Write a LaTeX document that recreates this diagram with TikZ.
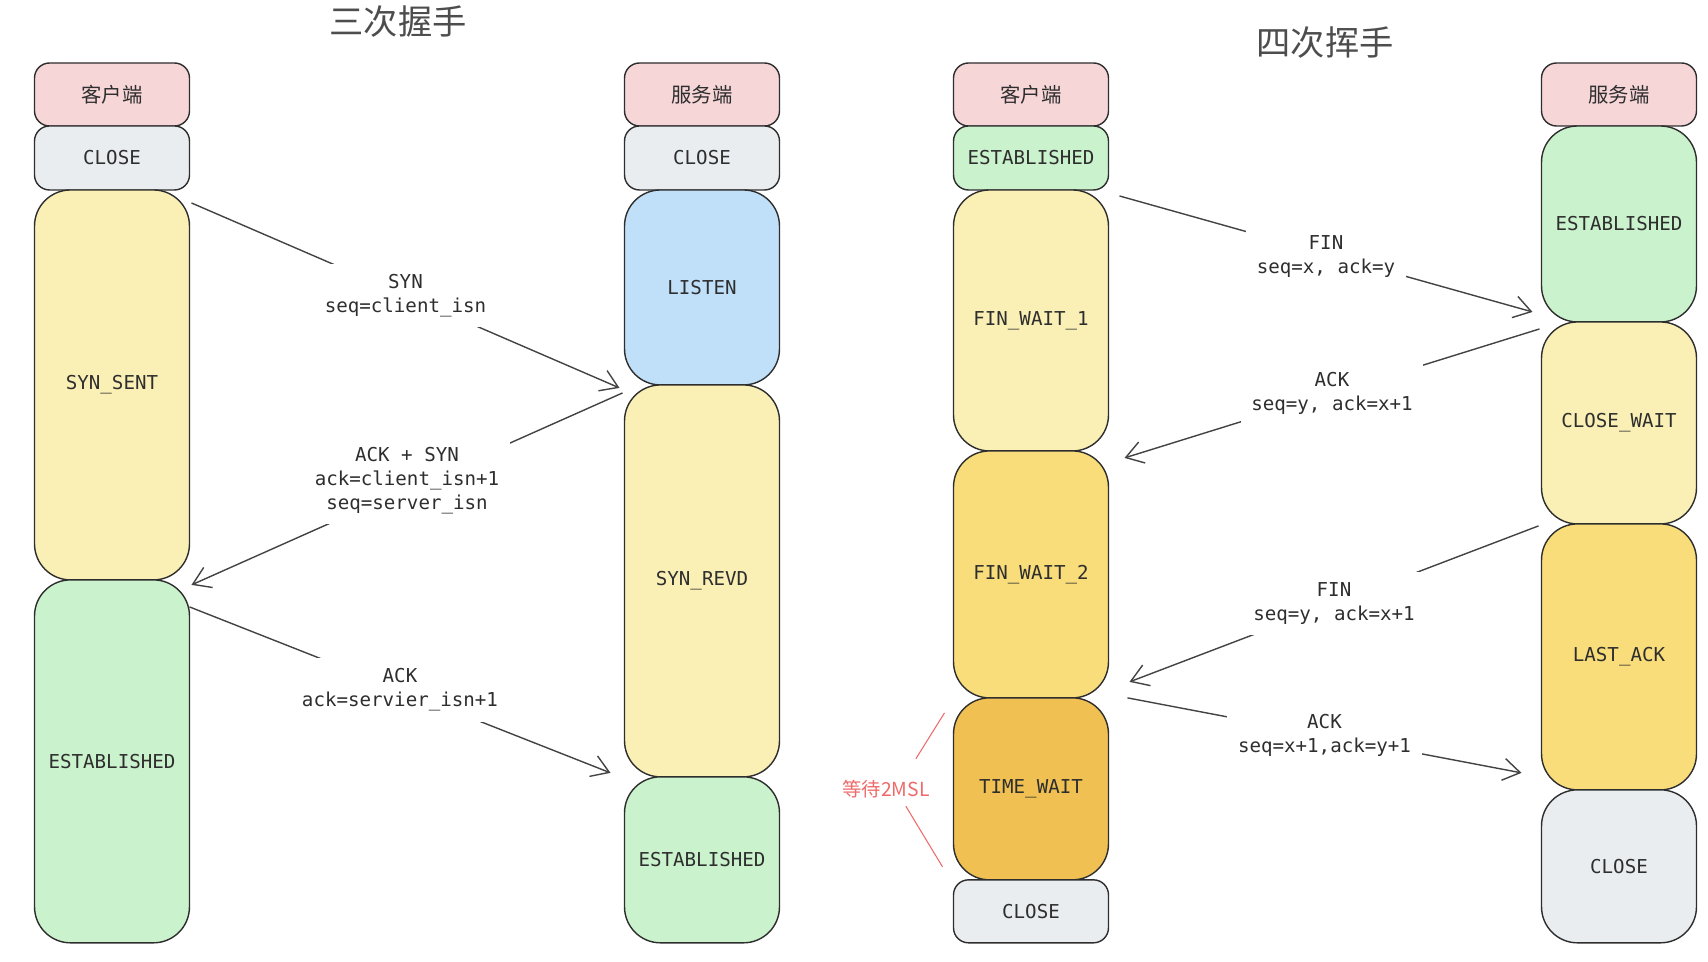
\documentclass[tikz,border=0pt]{standalone}
\usepackage{fontspec}
\setmonofont{DejaVu Sans Mono}
\newfontfamily\cjk{Noto Sans CJK SC}
\usetikzlibrary{arrows.meta,positioning}
\definecolor{sthdr}{HTML}{F7D6D8}
\definecolor{stgrey}{HTML}{EAEDF0}
\definecolor{styellow}{HTML}{FAF0B5}
\definecolor{stblue}{HTML}{C0DFF9}
\definecolor{stgreen}{HTML}{CAF2CC}
\definecolor{stgold}{HTML}{F8DD7A}
\definecolor{storange}{HTML}{F0C152}
\definecolor{mslred}{HTML}{EE6A6A}
\definecolor{inkgrey}{HTML}{2E2E2E}
\tikzset{
	bigbox/.style={rectangle, draw=inkgrey, line width=0.8pt, rounded corners=0.72cm,
		minimum width=3.1cm, inner sep=0pt, outer sep=0pt, align=center, text=inkgrey,
		font=\ttfamily\fontsize{10.9}{13.6}\selectfont},
	smallbox/.style={bigbox, rounded corners=0.3cm, minimum height=1.28cm},
	hdrbox/.style={smallbox, fill=sthdr, minimum height=1.26cm, font=\cjk\fontsize{11.6}{13.6}\selectfont},
	msgarr/.style={-{Straight Barb[length=3.4mm,width=4.4mm]}, line width=0.8pt, draw=inkgrey!90},
	msglabel/.style={fill=white, inner sep=6pt, align=center, text=inkgrey,
		font=\ttfamily\fontsize{10.9}{13.6}\selectfont},
	titletext/.style={font=\cjk\fontsize{19.5}{22}\selectfont, text=inkgrey!85}
}

\begin{document}
\begin{tikzpicture}[x=0.02cm, y=-0.02cm]
	\useasboundingbox (0,0) rectangle (1708,962);
	\node[titletext] (title3) at (398,22) {三次握手};
	\node[titletext] (title4) at (1325,43) {四次挥手};
	% three-way handshake
	\node[hdrbox] (c1hdr) at (112,94.5) {客户端};
	\node[smallbox, fill=stgrey, below=0pt of c1hdr] (c1close) {CLOSE};
	\node[bigbox, fill=styellow, minimum height=7.8cm, below=0pt of c1close] (c1syn) {SYN\_SENT};
	\node[bigbox, fill=stgreen, minimum height=7.26cm, below=0pt of c1syn] (c1est) {ESTABLISHED};
	\node[hdrbox] (s1hdr) at (702,94.5) {服务端};
	\node[smallbox, fill=stgrey, below=0pt of s1hdr] (s1close) {CLOSE};
	\node[bigbox, fill=stblue, minimum height=3.9cm, below=0pt of s1close] (s1listen) {LISTEN};
	\node[bigbox, fill=styellow, minimum height=7.84cm, below=0pt of s1listen] (s1revd) {SYN\_REVD};
	\node[bigbox, fill=stgreen, minimum height=3.32cm, below=0pt of s1revd] (s1est) {ESTABLISHED};
	\draw[msgarr] ([shift={(2,13)}]c1syn.north east) -- node[msglabel] (synlbl) {SYN\\seq=client\_isn} ([shift={(-5,3)}]s1listen.south west);
	\draw[msgarr] ([shift={(-2,8)}]s1revd.north west) -- node[msglabel, yshift=0.17cm] (synacklbl) {ACK + SYN\\ack=client\_isn+1\\seq=server\_isn} ([shift={(2,5)}]c1est.north east);
	\draw[msgarr] ([shift={(0,27)}]c1est.north east) -- node[msglabel] (acklbl) {ACK\\ack=servier\_isn+1} ([shift={(-14,-4)}]s1est.north west);
	% four-way wave
	\node[hdrbox] (c2hdr) at (1031,94.5) {客户端};
	\node[smallbox, fill=stgreen, below=0pt of c2hdr] (c2est) {ESTABLISHED};
	\node[bigbox, fill=styellow, minimum height=5.22cm, below=0pt of c2est] (c2fw1) {FIN\_WAIT\_1};
	\node[bigbox, fill=stgold, minimum height=4.94cm, below=0pt of c2fw1] (c2fw2) {FIN\_WAIT\_2};
	\node[bigbox, fill=storange, minimum height=3.64cm, below=0pt of c2fw2] (c2tw) {TIME\_WAIT};
	\node[smallbox, fill=stgrey, minimum height=1.26cm, below=0pt of c2tw] (c2close) {CLOSE};
	\node[hdrbox] (s2hdr) at (1619,94.5) {服务端};
	\node[bigbox, fill=stgreen, minimum height=3.92cm, below=0pt of s2hdr] (s2est) {ESTABLISHED};
	\node[bigbox, fill=styellow, minimum height=4.04cm, below=0pt of s2est] (s2cw) {CLOSE\_WAIT};
	\node[bigbox, fill=stgold, minimum height=5.32cm, below=0pt of s2cw] (s2la) {LAST\_ACK};
	\node[bigbox, fill=stgrey, minimum height=3.06cm, below=0pt of s2la] (s2close) {CLOSE};
	\draw[msgarr] ([shift={(11,6)}]c2fw1.north east) -- node[msglabel, yshift=-0.06cm] (finlbl) {FIN\\seq=x, ack=y} ([shift={(-9,-10)}]s2est.south west);
	\draw[msgarr] ([shift={(-2,7)}]s2cw.north west) -- node[msglabel] (ack1lbl) {ACK\\seq=y, ack=x+1} ([shift={(16,7)}]c2fw2.north east);
	\draw[msgarr] ([shift={(-3,2)}]s2la.north west) -- node[msglabel] (fin2lbl) {FIN\\seq=y, ack=x+1} ([shift={(21,-16)}]c2fw2.south east);
	\draw[msgarr] ([shift={(19,0)}]c2tw.north east) -- node[msglabel] (ack2lbl) {ACK\\seq=x+1,ack=y+1} ([shift={(-20,-17)}]s2la.south west);
	% 2MSL note
	\node[text=mslred, font=\cjk\fontsize{11}{13}\selectfont, inner sep=0pt] (msl) at (886,789) {等待2MSL};
	\draw[mslred, line width=0.6pt] ([shift={(-14,-21)}]msl.north east) -- ([shift={(-9,15)}]c2tw.north west);
	\draw[mslred, line width=0.6pt] ([shift={(-24,8)}]msl.south east) -- ([shift={(-11,-13)}]c2tw.south west);
\end{tikzpicture}
\end{document}
